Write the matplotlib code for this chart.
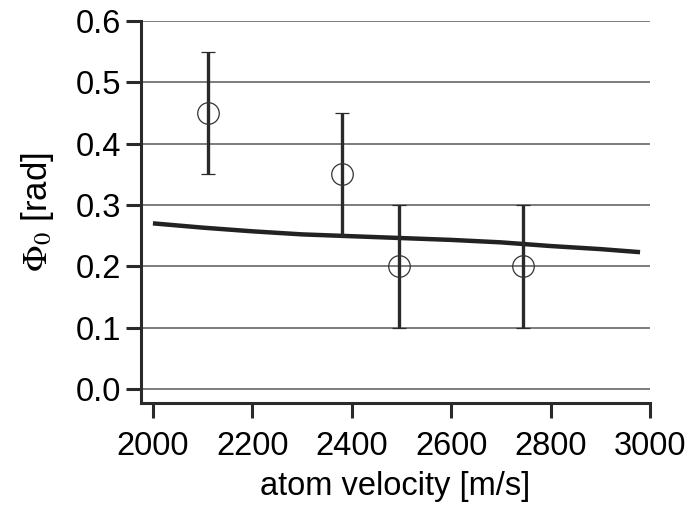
import matplotlib
matplotlib.use("Agg")
import matplotlib.pyplot as plt

plt.rcParams['font.family'] = ['Liberation Sans', 'DejaVu Sans']
plt.rcParams['mathtext.fontset'] = 'stix'

# measured phase offsets
velocity = [2110, 2380, 2495, 2745]
phi0 = [0.45, 0.35, 0.20, 0.20]
phi0_err = [0.10, 0.10, 0.10, 0.10]

# theory curve
v_theory = [2000, 2100, 2200, 2300, 2400, 2500, 2600, 2700, 2800, 2900, 2980]
phi_theory = [0.270, 0.263, 0.257, 0.252, 0.249, 0.246, 0.243, 0.239, 0.233, 0.228, 0.223]

yticks = [0.0, 0.1, 0.2, 0.3, 0.4, 0.5, 0.6]
xticks = [2000, 2200, 2400, 2600, 2800, 3000]

fig = plt.figure(figsize=(6.89, 5.09), dpi=100)
ax = fig.add_axes([141 / 689, 106 / 509, 509 / 689, 382 / 509])

for y in yticks:
    ax.axhline(y, color='0.35', lw=1.1, zorder=0)

ax.plot(v_theory, phi_theory, color='#222222', lw=3.2, solid_capstyle='butt', zorder=2)
ax.errorbar(velocity, phi0, yerr=phi0_err, fmt='o', ms=15.5, mfc='none', mec='#333333',
            mew=0.9, ecolor='#2a2a2a', elinewidth=2.4, capsize=5, capthick=2.4, zorder=3)

ax.set_xlim(1976, 3000)
ax.set_ylim(-0.023, 0.6)
ax.set_xticks(xticks)
ax.set_yticks(yticks)
ax.set_yticklabels(['%.1f' % t for t in yticks])

for side in ['top', 'right']:
    ax.spines[side].set_visible(False)
for side in ['left', 'bottom']:
    ax.spines[side].set_linewidth(2.2)
    ax.spines[side].set_color('#2a2a2a')

ax.tick_params(direction='out', length=10.5, width=2.2, color='#2a2a2a', labelsize=23.5)
ax.tick_params(axis='y', pad=4)
ax.tick_params(axis='x', pad=10)

ax.set_xlabel('atom velocity [m/s]', fontsize=23.5, labelpad=6)
ax.set_ylabel(r'$\Phi_0$ [rad]', fontsize=25, labelpad=14)

fig.savefig('out.png', dpi=100)
